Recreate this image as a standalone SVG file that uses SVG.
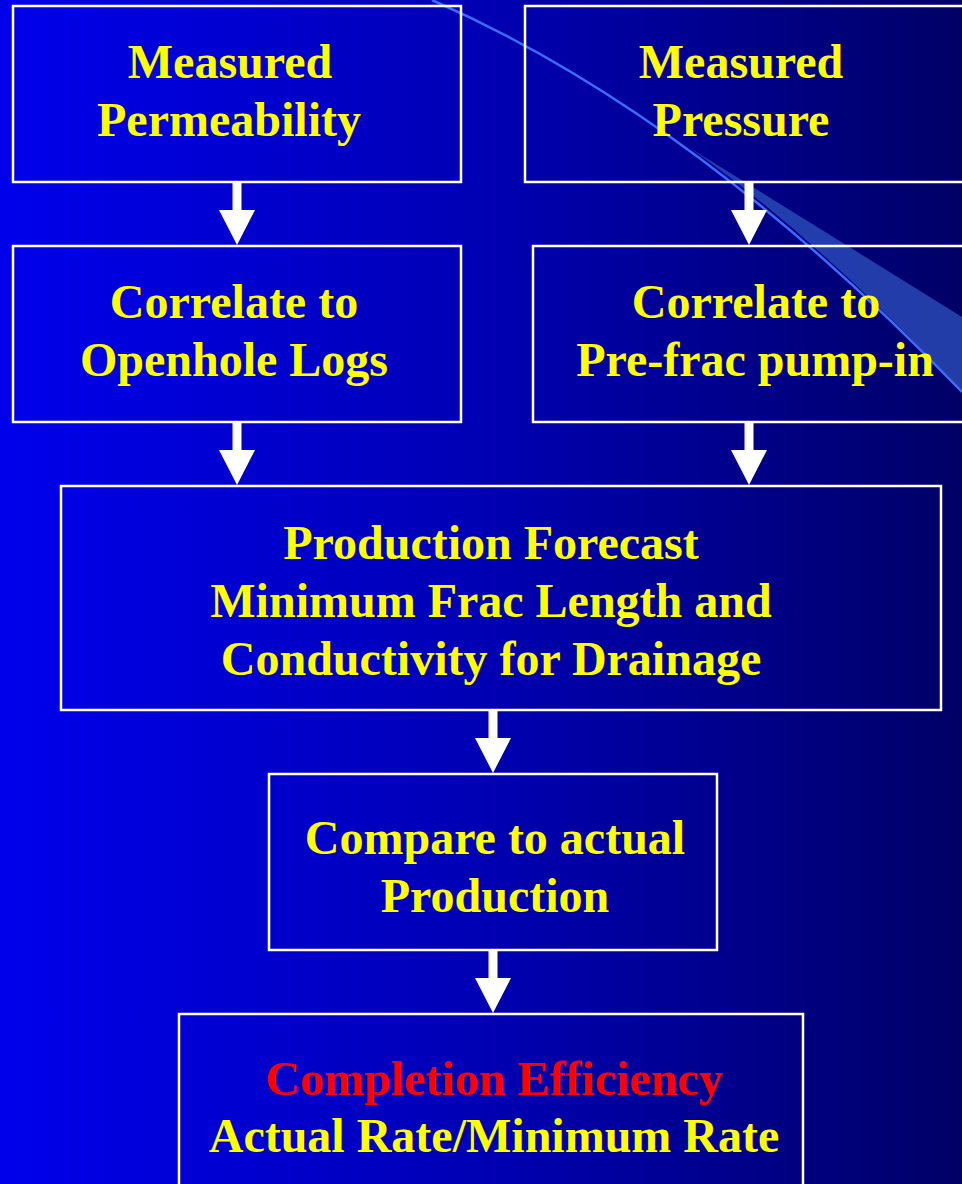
<svg xmlns="http://www.w3.org/2000/svg" width="962" height="1184" viewBox="0 0 962 1184">
<defs>
<linearGradient id="bg" x1="0" y1="0" x2="1" y2="0">
<stop offset="0" stop-color="#0000EC"/>
<stop offset="0.5" stop-color="#0000B4"/>
<stop offset="1" stop-color="#000066"/>
</linearGradient>
<style>
.box{fill:none;stroke:#FFFFFF;stroke-width:2.5}
.t{font-family:"Liberation Serif","Times New Roman",serif;font-weight:bold;font-size:48px;fill:#FFFF00;text-anchor:middle}
.red{fill:#FF0000}
.shaft{stroke:#FFFFFF;stroke-width:9;fill:none}
.head{fill:#FFFFFF}
</style>
</defs>
<rect x="0" y="0" width="962" height="1184" fill="url(#bg)"/>
<g id="swoosh">
<path d="M690,148 L962,317 L962,392 Q820,240 690,148 Z" fill="#2a4cb8" opacity="0.8"/>
<path d="M432,0 Q695,115 962,392" fill="none" stroke="#3a6cff" stroke-width="2.5"/>
</g>
<g id="connectors">
<path class="shaft" d="M237,182 V211"/><path class="head" d="M219,210 L255,210 L237,245 Z"/>
<path class="shaft" d="M749,182 V211"/><path class="head" d="M731,210 L767,210 L749,245 Z"/>
<path class="shaft" d="M237,422 V451"/><path class="head" d="M219,450 L255,450 L237,485 Z"/>
<path class="shaft" d="M749,422 V451"/><path class="head" d="M731,450 L767,450 L749,485 Z"/>
<path class="shaft" d="M493,710 V739"/><path class="head" d="M475,738 L511,738 L493,773 Z"/>
<path class="shaft" d="M493,950 V979"/><path class="head" d="M475,978 L511,978 L493,1013 Z"/>
</g>
<g id="n1"><rect class="box" x="13" y="6" width="448" height="176"/>
<text class="t" x="230" y="78">Measured</text><text class="t" x="229" y="136">Permeability</text></g>
<g id="n2"><rect class="box" x="525" y="6" width="445" height="176"/>
<text class="t" x="741" y="78">Measured</text><text class="t" x="741" y="136">Pressure</text></g>
<g id="n3"><rect class="box" x="13" y="246" width="448" height="176"/>
<text class="t" x="234" y="318">Correlate to</text><text class="t" x="234" y="376">Openhole Logs</text></g>
<g id="n4"><rect class="box" x="533" y="246" width="437" height="176"/>
<text class="t" x="756" y="318">Correlate to</text><text class="t" x="755" y="376">Pre-frac pump-in</text></g>
<g id="n5"><rect class="box" x="61" y="486" width="880" height="224"/>
<text class="t" x="491" y="559">Production Forecast</text><text class="t" x="491" y="617">Minimum Frac Length and</text><text class="t" x="491" y="675">Conductivity for Drainage</text></g>
<g id="n6"><rect class="box" x="269" y="774" width="448" height="176"/>
<text class="t" x="495" y="854">Compare to actual</text><text class="t" x="495" y="912">Production</text></g>
<g id="n7"><rect class="box" x="179" y="1014" width="624" height="180"/>
<text class="t red" x="494" y="1095">Completion Efficiency</text><text class="t" x="494" y="1152">Actual Rate/Minimum Rate</text></g>
</svg>
